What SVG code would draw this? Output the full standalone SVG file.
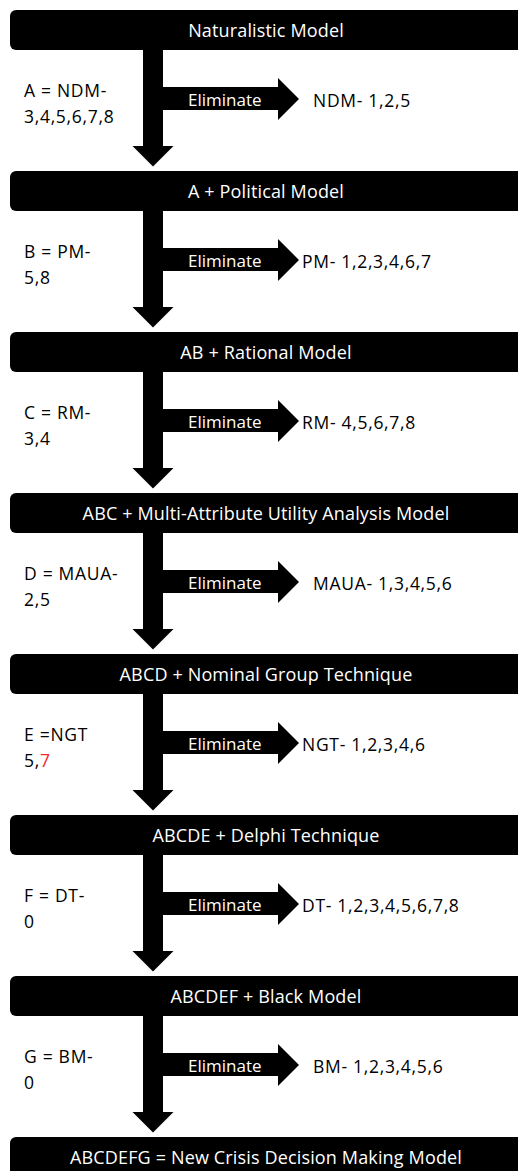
<svg xmlns="http://www.w3.org/2000/svg" xmlns:xlink="http://www.w3.org/1999/xlink" width="518" height="1171" viewBox="0 0 518 1171">
<style>
text{font-family:"Open Sans","Noto Sans",sans-serif;font-size:17px}
.bar{fill:#000}
.title{fill:#fff;text-anchor:middle;font-size:18px;letter-spacing:0.15px}
.elim{fill:#fff}
.lbl{fill:#000;font-size:17.5px;letter-spacing:0.7px}
.red{fill:#ee2b2b}
.arr{fill:#000}
</style>
<defs>
<path id="down" d="M143,40 H163 V136 H173.5 L153,156.5 L132.5,136 H143 Z"/>
<path id="right" d="M163,77 H278 V68 L299,89 L278,110 V100 H163 Z"/>
</defs>
<rect width="518" height="1171" fill="#fff"/>
<g id="connectors">
<use xlink:href="#down" class="arr" transform="translate(0,10)"/>
<use xlink:href="#right" class="arr" transform="translate(0,10)"/>
<use xlink:href="#down" class="arr" transform="translate(0,171)"/>
<use xlink:href="#right" class="arr" transform="translate(0,171)"/>
<use xlink:href="#down" class="arr" transform="translate(0,332)"/>
<use xlink:href="#right" class="arr" transform="translate(0,332)"/>
<use xlink:href="#down" class="arr" transform="translate(0,493)"/>
<use xlink:href="#right" class="arr" transform="translate(0,493)"/>
<use xlink:href="#down" class="arr" transform="translate(0,654)"/>
<use xlink:href="#right" class="arr" transform="translate(0,654)"/>
<use xlink:href="#down" class="arr" transform="translate(0,815)"/>
<use xlink:href="#right" class="arr" transform="translate(0,815)"/>
<use xlink:href="#down" class="arr" transform="translate(0,976)"/>
<use xlink:href="#right" class="arr" transform="translate(0,976)"/>
<text class="elim" x="188" y="106">Eliminate</text>
<text class="elim" x="188" y="267">Eliminate</text>
<text class="elim" x="188" y="428">Eliminate</text>
<text class="elim" x="188" y="589">Eliminate</text>
<text class="elim" x="188" y="750">Eliminate</text>
<text class="elim" x="188" y="911">Eliminate</text>
<text class="elim" x="188" y="1072">Eliminate</text>
</g>
<g id="node1"><rect class="bar" x="10" y="10" width="530" height="40" rx="6"/><text class="title" x="266" y="36.5">Naturalistic Model</text></g>
<g id="node2"><rect class="bar" x="10" y="171" width="530" height="40" rx="6"/><text class="title" x="266" y="197.5">A + Political Model</text></g>
<g id="node3"><rect class="bar" x="10" y="332" width="530" height="40" rx="6"/><text class="title" x="266" y="358.5">AB + Rational Model</text></g>
<g id="node4"><rect class="bar" x="10" y="493" width="530" height="40" rx="6"/><text class="title" x="266" y="519.5">ABC + Multi-Attribute Utility Analysis Model</text></g>
<g id="node5"><rect class="bar" x="10" y="654" width="530" height="40" rx="6"/><text class="title" x="266" y="680.5">ABCD + Nominal Group Technique</text></g>
<g id="node6"><rect class="bar" x="10" y="815" width="530" height="40" rx="6"/><text class="title" x="266" y="841.5">ABCDE + Delphi Technique</text></g>
<g id="node7"><rect class="bar" x="10" y="976" width="530" height="40" rx="6"/><text class="title" x="266" y="1002.5">ABCDEF + Black Model</text></g>
<g id="node8"><rect class="bar" x="10" y="1137" width="530" height="40" rx="6"/><text class="title" x="266" y="1163.5">ABCDEFG = New Crisis Decision Making Model</text></g>
<g id="left1"><text class="lbl" x="24" y="97">A = NDM-</text><text class="lbl" x="24" y="123">3,4,5,6,7,8</text></g>
<g id="left2"><text class="lbl" x="24" y="258">B = PM-</text><text class="lbl" x="24" y="284">5,8</text></g>
<g id="left3"><text class="lbl" x="24" y="419">C = RM-</text><text class="lbl" x="24" y="445">3,4</text></g>
<g id="left4"><text class="lbl" x="24" y="580">D = MAUA-</text><text class="lbl" x="24" y="606">2,5</text></g>
<g id="left5"><text class="lbl" x="24" y="741">E =NGT</text><text class="lbl" x="24" y="767">5,<tspan class="red">7</tspan></text></g>
<g id="left6"><text class="lbl" x="24" y="902">F = DT-</text><text class="lbl" x="24" y="928">0</text></g>
<g id="left7"><text class="lbl" x="24" y="1063">G = BM-</text><text class="lbl" x="24" y="1089">0</text></g>
<g id="right1"><text class="lbl" x="313" y="107">NDM- 1,2,5</text></g>
<g id="right2"><text class="lbl" x="302" y="268">PM- 1,2,3,4,6,7</text></g>
<g id="right3"><text class="lbl" x="302" y="429">RM- 4,5,6,7,8</text></g>
<g id="right4"><text class="lbl" x="313" y="590">MAUA- 1,3,4,5,6</text></g>
<g id="right5"><text class="lbl" x="302" y="751">NGT- 1,2,3,4,6</text></g>
<g id="right6"><text class="lbl" x="302" y="912">DT- 1,2,3,4,5,6,7,8</text></g>
<g id="right7"><text class="lbl" x="313" y="1073">BM- 1,2,3,4,5,6</text></g>
</svg>
